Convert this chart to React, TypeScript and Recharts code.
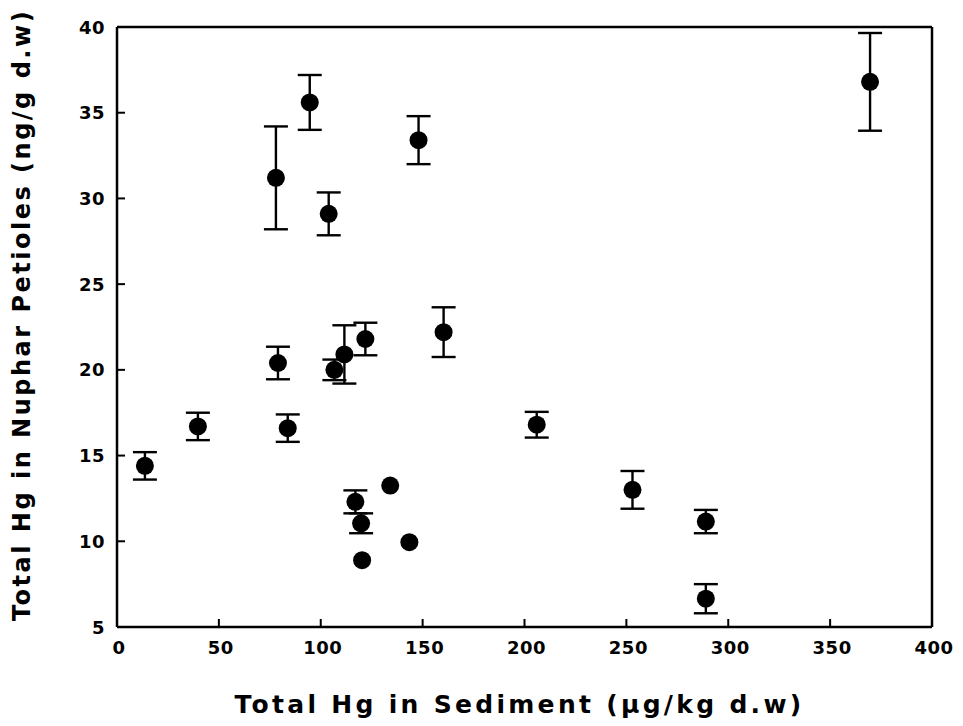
import React from 'react';
import {
  ScatterChart,
  Scatter,
  XAxis,
  YAxis,
  ErrorBar,
  ReferenceLine,
} from 'recharts';

// Sediment Hg (µg/kg d.w) per site
const sedimentHg = [
  13.7, 39.7, 78, 79, 83.8, 94.6, 103.9, 106.7, 111.6, 121.9,
  117, 119.8, 120.3, 134.1, 143.5, 148, 160.3, 206, 253, 289, 289, 369.6,
];
// Nuphar petiole Hg (ng/g d.w) per site
const petioleHg = [
  14.4, 16.7, 31.2, 20.4, 16.6, 35.6, 29.1, 20.0, 20.9, 21.8,
  12.3, 11.05, 8.9, 13.25, 9.95, 33.4, 22.2, 16.8, 13.0, 11.15, 6.65, 36.8,
];
// Standard error of each petiole mean
const petioleErr = [
  0.8, 0.8, 3.0, 0.95, 0.8, 1.6, 1.25, 0.6, 1.7, 0.95,
  0.67, 0.58, 0, 0, 0, 1.4, 1.45, 0.75, 1.1, 0.68, 0.85, 2.85,
];

const xTicks = [0, 50, 100, 150, 200, 250, 300, 350, 400];
const yTicks = [5, 10, 15, 20, 25, 30, 35, 40];

const points = sedimentHg.map((x, i) => ({ x, y: petioleHg[i], err: petioleErr[i] }));

const FONT = '"DejaVu Sans", Verdana, sans-serif';
const INK = '#000';

const XTick = (props: any) => {
  const { x, y, payload } = props;
  return (
    <g>
      <line x1={x} y1={y} x2={x} y2={y - 8} stroke={INK} strokeWidth={2} />
      <text
        x={x + 2}
        y={y + 20}
        textAnchor="middle"
        dominantBaseline="central"
        fontFamily={FONT}
        fontWeight="bold"
        fontSize={18}
        letterSpacing={0.5}
        fill={INK}
      >
        {payload.value}
      </text>
    </g>
  );
};

const YTick = (props: any) => {
  const { x, y, payload } = props;
  return (
    <g>
      <line x1={x} y1={y} x2={x + 8} y2={y} stroke={INK} strokeWidth={2} />
      <text
        x={x - 12}
        y={y}
        textAnchor="end"
        dominantBaseline="central"
        fontFamily={FONT}
        fontWeight="bold"
        fontSize={18}
        letterSpacing={0.5}
        fill={INK}
      >
        {payload.value}
      </text>
    </g>
  );
};

const XTitle = (props: any) => {
  const vb = props.viewBox;
  return (
    <text
      x={vb.x + vb.width / 2 - 5}
      y={vb.y + 86}
      textAnchor="middle"
      fontFamily={FONT}
      fontWeight="bold"
      fontSize={25}
      letterSpacing={3.3}
      fill={INK}
    >
      Total Hg in Sediment (µg/kg d.w)
    </text>
  );
};

const YTitle = (props: any) => {
  const vb = props.viewBox;
  const cx = vb.x + 14;
  const cy = vb.y + vb.height / 2 - 12;
  return (
    <text
      x={cx}
      y={cy}
      transform={`rotate(-90 ${cx} ${cy})`}
      textAnchor="middle"
      dominantBaseline="central"
      fontFamily={FONT}
      fontWeight="bold"
      fontSize={24}
      letterSpacing={2.5}
      fill={INK}
    >
      Total Hg in Nuphar Petioles (ng/g d.w)
    </text>
  );
};

const Dot = (props: any) => <circle cx={props.cx} cy={props.cy} r={9} fill={INK} />;

export default function App() {
  return (
    <ScatterChart
      width={955}
      height={718}
      margin={{ top: 19, right: 31, bottom: 0, left: 0 }}
      style={{ background: '#fff' }}
    >
      <XAxis
        type="number"
        dataKey="x"
        domain={[0, 400]}
        ticks={xTicks}
        interval={0}
        height={99}
        tickSize={0}
        tickMargin={0}
        tickLine={false}
        tick={<XTick />}
        axisLine={{ stroke: INK, strokeWidth: 2.5 }}
        label={{ content: <XTitle /> }}
      />
      <YAxis
        type="number"
        dataKey="y"
        domain={[5, 40]}
        ticks={yTicks}
        interval={0}
        width={109}
        tickSize={0}
        tickMargin={0}
        tickLine={false}
        tick={<YTick />}
        axisLine={{ stroke: INK, strokeWidth: 2.5 }}
        label={{ content: <YTitle /> }}
      />
      <ReferenceLine y={40} stroke={INK} strokeWidth={2.5} />
      <ReferenceLine x={400} stroke={INK} strokeWidth={2.5} />
      <Scatter data={points} shape={<Dot />} isAnimationActive={false}>
        <ErrorBar dataKey="err" direction="y" width={12} stroke={INK} strokeWidth={2.4} />
      </Scatter>
    </ScatterChart>
  );
}
